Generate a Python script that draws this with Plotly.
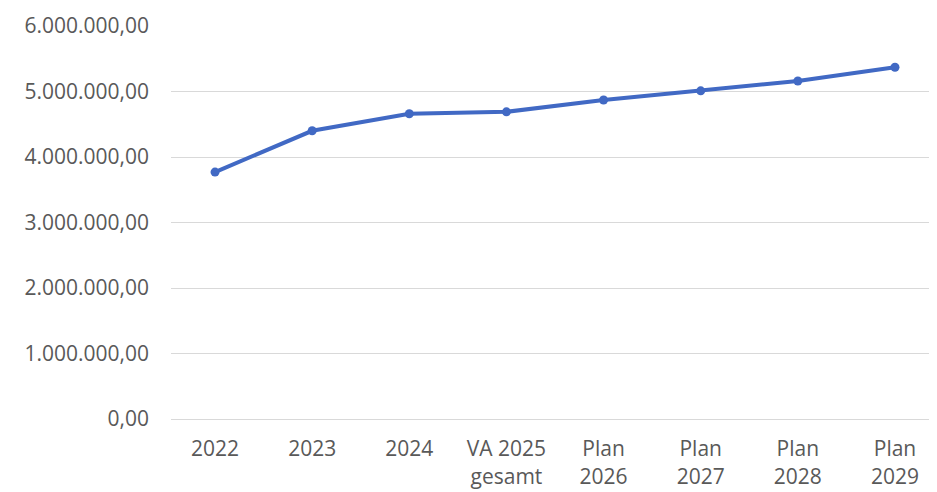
import plotly.graph_objects as go

categories = ["2022", "2023", "2024", "VA 2025<br>gesamt", "Plan<br>2026", "Plan<br>2027", "Plan<br>2028", "Plan<br>2029"]
values = [3770000, 4400000, 4660000, 4690000, 4870000, 5010000, 5160000, 5370000]
y_ticks = [0, 1000000, 2000000, 3000000, 4000000, 5000000, 6000000]

fig = go.Figure()
fig.add_trace(go.Scatter(
    x=categories, y=values, mode="lines+markers",
    line=dict(color="#4169C4", width=4),
    marker=dict(color="#4169C4", size=9, symbol="circle"),
))

fig.update_layout(
    width=937, height=492,
    margin=dict(l=163, r=6, t=18, b=81),
    paper_bgcolor="white", plot_bgcolor="white",
    separators=",.",
    showlegend=False,
    font=dict(family="Open Sans", size=21, color="#595959"),
    xaxis=dict(
        type="category", showgrid=False, showline=True, linecolor="#d9d9d9", linewidth=1,
        ticks="", tickfont=dict(size=21, color="#595959"), ticklabelstandoff=11,
        automargin=False,
    ),
    yaxis=dict(
        range=[0, 6000000], tickvals=y_ticks, tickformat=",.2f",
        showgrid=True, gridcolor="#d9d9d9", gridwidth=1,
        zeroline=False, showline=False, ticks="", ticklabelstandoff=21,
        tickfont=dict(size=21, color="#595959"), automargin=False,
    ),
)

fig.write_html("out.html")
